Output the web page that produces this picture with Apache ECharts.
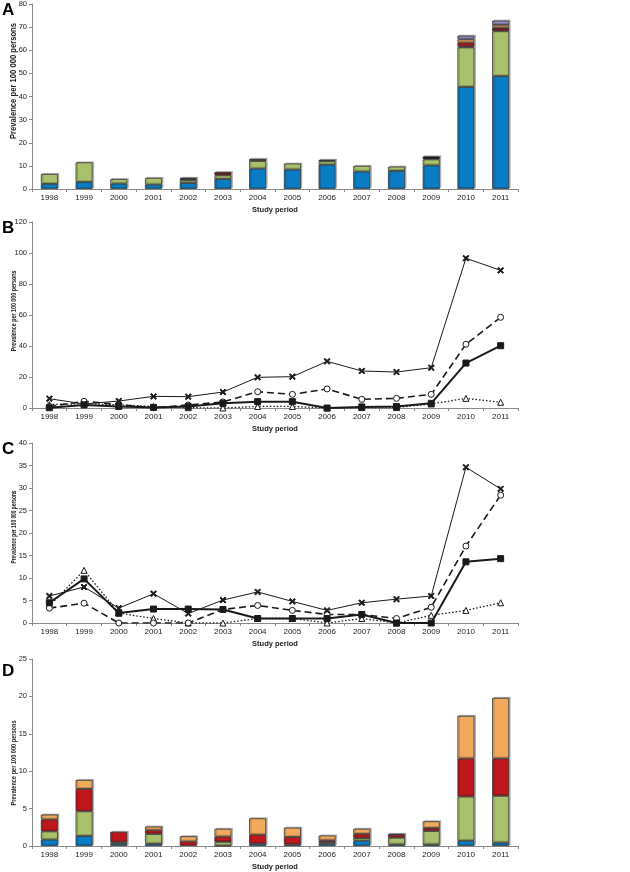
<!DOCTYPE html>
<html><head><meta charset="utf-8">
<script src="https://cdn.jsdelivr.net/npm/echarts@6/dist/echarts.min.js"></script>
<style>html,body{margin:0;padding:0;background:#fff}#c{width:630px;height:872px}</style>
</head><body><div id="c"></div>
<script>
const years = ['1998','1999','2000','2001','2002','2003','2004','2005','2006','2007','2008','2009','2010','2011'];

// Panel A stacked bars
const aBlue    = [2.2, 3.0, 2.3, 1.9, 2.6, 4.3, 8.8, 8.4, 10.5, 7.5, 7.8, 10.2, 44.1, 48.8];
const aGreen   = [4.3, 8.5, 2.0, 2.9, 1.2, 1.6, 3.3, 2.6, 1.5, 2.5, 1.9, 2.6, 17.1, 19.4];
const aBlack   = [0, 0, 0, 0, 0.6, 0, 0, 0, 0.6, 0, 0, 1.3, 0, 0];
const aDarkRed = [0, 0, 0, 0, 0.4, 1.4, 0.9, 0, 0, 0, 0, 0, 0.5, 1.6];
const aRed     = [0, 0, 0, 0, 0, 0, 0, 0, 0, 0, 0, 0, 1.6, 0];
const aOrange  = [0, 0, 0, 0, 0, 0, 0, 0, 0, 0, 0, 0, 1.4, 1.2];
const aPurple  = [0, 0, 0, 0, 0, 0, 0, 0, 0, 0, 0, 0, 1.6, 1.8];

// Panel B lines
const bCross    = [6.0, 2.6, 4.5, 7.5, 7.3, 10.3, 19.8, 20.2, 30.1, 23.9, 23.2, 26.0, 96.6, 88.8];
const bCircle   = [1.0, 4.3, 2.2, 0.2, 1.9, 3.9, 10.5, 8.8, 12.3, 5.6, 6.2, 8.8, 41.1, 58.5];
const bSquare   = [0.2, 2.0, 1.0, 0.4, 0.9, 3.0, 4.1, 4.1, 0.0, 0.7, 0.9, 3.0, 29.0, 40.2];
const bTriangle = [2.2, 2.8, 2.0, 1.0, 0.2, 0.0, 1.0, 1.0, 0.0, 0.3, 0.3, 2.6, 6.2, 3.7];

// Panel C lines
const cCross    = [6.0, 8.0, 3.3, 6.5, 2.1, 5.1, 6.9, 4.8, 2.8, 4.5, 5.3, 6.0, 34.6, 29.8];
const cCircle   = [3.3, 4.4, 0.0, 0.0, 0.0, 3.0, 3.9, 2.8, 1.9, 1.9, 1.0, 3.5, 17.1, 28.4];
const cSquare   = [4.5, 9.8, 2.2, 3.1, 3.1, 3.0, 1.0, 1.0, 1.0, 1.9, 0.0, 0.0, 13.6, 14.3];
const cTriangle = [3.8, 11.7, 2.2, 1.0, 0.0, 0.0, 1.0, 1.0, 0.0, 1.0, 0.0, 1.7, 2.8, 4.5];

// Panel D stacked bars
const dBlue   = [0.85, 1.33, 0.3, 0.3, 0, 0.05, 0.3, 0.2, 0.3, 0.7, 0.2, 0.2, 0.7, 0.45];
const dGreen  = [1.1, 3.3, 0.2, 1.3, 0, 0.5, 0, 0, 0.2, 0.35, 0.9, 1.8, 5.9, 6.25];
const dRed    = [1.6, 3.0, 1.4, 0.5, 0.6, 0.7, 1.2, 1.0, 0.25, 0.55, 0.4, 0.4, 5.1, 5.0];
const dOrange = [0.65, 1.2, 0, 0.5, 0.7, 1.05, 2.2, 1.25, 0.65, 0.7, 0.1, 0.9, 5.7, 8.1];

const yTicksA = {min:0, max:80, interval:10};
const yTicksB = {min:0, max:120, interval:20};
const yTicksC = {min:0, max:40, interval:5};
const yTicksD = {min:0, max:25, interval:5};

const C = {blue:'#0a7cc4', green:'#a9c16c', black:'#1a1a1a', darkred:'#7d1e1e', red:'#c0171d', orange:'#f1a95e', purple:'#9c90c6'};
const crossPath = 'path://M0,1.5L1.5,0L5,3.5L8.5,0L10,1.5L6.5,5L10,8.5L8.5,10L5,6.5L1.5,10L0,8.5L3.5,5Z';

const grids = [
  {left:32, top:4, width:486, height:185},
  {left:32, top:222, width:486, height:186},
  {left:32, top:443, width:486, height:180},
  {left:32, top:659, width:486, height:188}
];
const axisCol = '#8a8a8a';
const lblFont = 'Liberation Sans';
function xAx(i){
  return {type:'category', gridIndex:i, data:years, boundaryGap:true,
    axisLine:{lineStyle:{color:axisCol, width:1}},
    axisTick:{show:true, length:3, lineStyle:{color:axisCol}},
    axisLabel:{color:'#222', fontSize:8, fontFamily:lblFont, margin:5},
    name:'Study period', nameLocation:'middle', nameGap:17,
    nameTextStyle:{fontSize:7.5, fontWeight:'bold', color:'#222', fontFamily:lblFont}};
}
function yAx(i, t){
  return {type:'value', gridIndex:i, min:t.min, max:t.max, interval:t.interval,
    splitLine:{show:false},
    axisLine:{show:true, lineStyle:{color:axisCol, width:1}},
    axisTick:{show:true, length:3, lineStyle:{color:axisCol}},
    axisLabel:{color:'#222', fontSize:7.5, fontFamily:lblFont, margin:5}};
}
function nz(arr){ return arr.map(v => v === 0 ? '-' : v); }
function bar(name, arr, color, i, stack){
  return {type:'bar', name:name, xAxisIndex:i, yAxisIndex:i, stack:stack, data:nz(arr), barWidth:17,
    itemStyle:{color:color, borderColor:'#333', borderWidth:0.8,
      shadowColor:'rgba(0,0,0,0.25)', shadowOffsetX:1.5, shadowOffsetY:-1, shadowBlur:0},
    silent:true, animation:false};
}
function line(arr, i, kind){
  const base = {type:'line', xAxisIndex:i, yAxisIndex:i, data:arr, animation:false, silent:true,
    lineStyle:{color:'#1a1a1a', width:1}, itemStyle:{color:'#1a1a1a', borderColor:'#1a1a1a', borderWidth:1}};
  if(kind==='cross'){ base.symbol = crossPath; base.symbolSize = 6; base.lineStyle.width = 1; }
  if(kind==='circle'){ base.symbol = 'circle'; base.symbolSize = 6; base.lineStyle = {color:'#1a1a1a', width:1.6, type:[7,4]};
    base.itemStyle = {color:'#fff', borderColor:'#1a1a1a', borderWidth:1}; }
  if(kind==='square'){ base.symbol = 'rect'; base.symbolSize = 6; base.lineStyle.width = 2; }
  if(kind==='triangle'){ base.symbol = 'triangle'; base.symbolSize = 6; base.lineStyle = {color:'#1a1a1a', width:1.3, type:[1.5,2]};
    base.itemStyle = {color:'#fff', borderColor:'#1a1a1a', borderWidth:1}; }
  return base;
}
const titleFont = 'Liberation Sans';
function yTitle(y, size, sx){
  return {type:'text', x:14, y:y, rotation:Math.PI/2, scaleX:sx, scaleY:1,
    style:{text:'Prevalence per 100 000 persons', fontSize:size, fontWeight:'bold', fontFamily:titleFont, fill:'#222', textAlign:'center', textVerticalAlign:'middle'}};
}
function letter(t, x, y){
  return {type:'text', x:x, y:y, style:{text:t, fontSize:17, fontWeight:'bold', fontFamily:'Liberation Sans', fill:'#000', textAlign:'left', textVerticalAlign:'top'}};
}

const chart = echarts.init(document.getElementById('c'), null, {renderer:'canvas'});
chart.setOption({
  backgroundColor:'#fff',
  animation:false,
  grid:grids,
  xAxis:[xAx(0), xAx(1), xAx(2), xAx(3)],
  yAxis:[yAx(0,yTicksA), yAx(1,yTicksB), yAx(2,yTicksC), yAx(3,yTicksD)],
  series:[
    bar('A1', aBlue, C.blue, 0, 'a'),
    bar('A2', aGreen, C.green, 0, 'a'),
    bar('A3', aBlack, C.black, 0, 'a'),
    bar('A4', aDarkRed, C.darkred, 0, 'a'),
    bar('A5', aRed, C.red, 0, 'a'),
    bar('A6', aOrange, C.orange, 0, 'a'),
    bar('A7', aPurple, C.purple, 0, 'a'),
    line(bTriangle, 1, 'triangle'),
    line(bCircle, 1, 'circle'),
    line(bSquare, 1, 'square'),
    line(bCross, 1, 'cross'),
    line(cTriangle, 2, 'triangle'),
    line(cCircle, 2, 'circle'),
    line(cSquare, 2, 'square'),
    line(cCross, 2, 'cross'),
    bar('D1', dBlue, C.blue, 3, 'd'),
    bar('D2', dGreen, C.green, 3, 'd'),
    bar('D3', dRed, C.red, 3, 'd'),
    bar('D4', dOrange, C.orange, 3, 'd')
  ],
  graphic:[
    yTitle(81, 8.5, 0.9), yTitle(311, 7, 0.76), yTitle(527, 6.5, 0.74), yTitle(763, 7, 0.8),
    letter('A', 2, 2), letter('B', 2, 220), letter('C', 2, 441), letter('D', 2, 663)
  ]
});
</script></body></html>
